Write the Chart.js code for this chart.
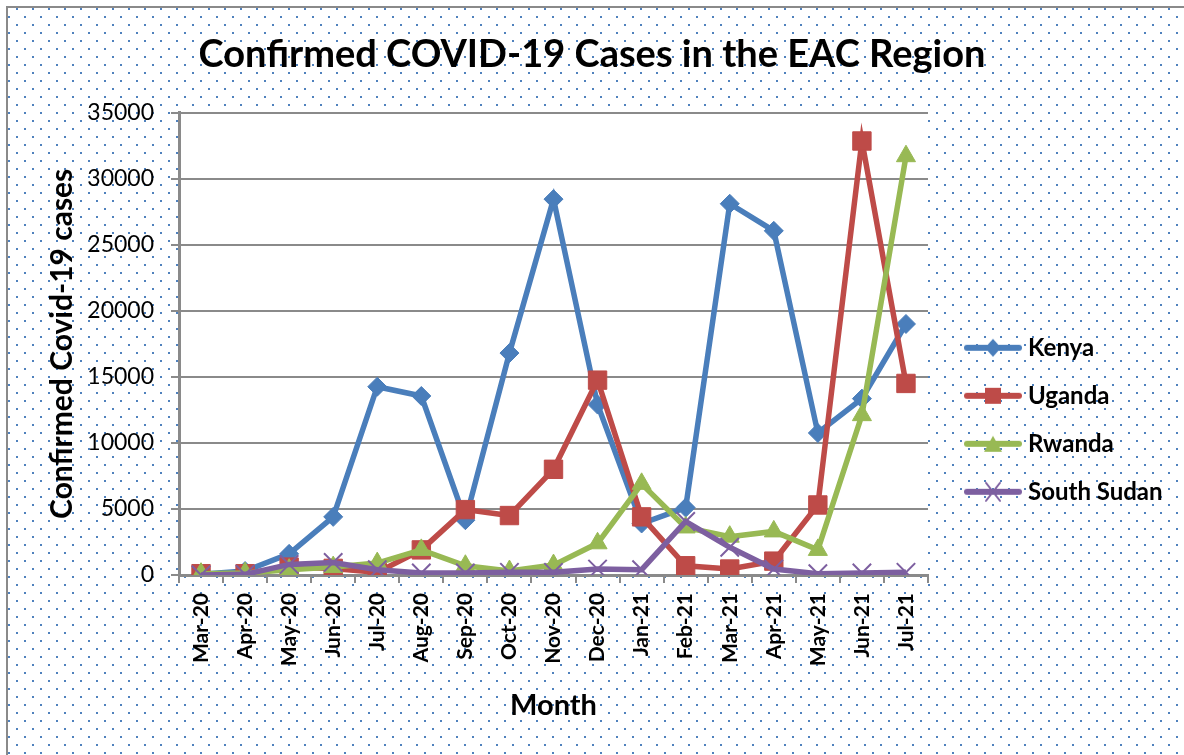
<!DOCTYPE html>
<html>
<head>
<meta charset="utf-8">
<script src="https://cdn.jsdelivr.net/npm/chart.js@4.4.1/dist/chart.umd.min.js"></script>
<style>
  html, body { margin: 0; padding: 0; background: #ffffff; }
  #wrap { width: 1184px; height: 755px; position: relative; }
</style>
</head>
<body>
<div id="wrap"><canvas id="c" width="1184" height="755"></canvas></div>
<script>
const months = ["Mar-20","Apr-20","May-20","Jun-20","Jul-20","Aug-20","Sep-20","Oct-20","Nov-20","Dec-20","Jan-21","Feb-21","Mar-21","Apr-21","May-21","Jun-21","Jul-21"];
const kenya = [50, 300, 1600, 4400, 14250, 13550, 4150, 16800, 28450, 12900, 3900, 5100, 28100, 26050, 10750, 13350, 19000];
const uganda = [100, 100, 600, 500, 200, 1900, 4950, 4500, 8000, 14750, 4400, 700, 450, 1050, 5300, 32850, 14500];
const rwanda = [100, 150, 400, 600, 900, 1900, 700, 300, 750, 2400, 6900, 3600, 2900, 3300, 1900, 12100, 31700];
const southSudan = [0, 50, 800, 950, 400, 150, 150, 200, 200, 450, 400, 4050, 2100, 450, 100, 150, 200];
const seriesNames = ["Kenya", "Uganda", "Rwanda", "South Sudan"];
const yTicks = [0, 5000, 10000, 15000, 20000, 25000, 30000, 35000];

const colors = ["#4A7EBB", "#BE4B48", "#98B954", "#7D5FA0"];
const styles = ["rectRot", "rect", "triangle", "crossRot"];
const FONT = "Lato";

function legendIcon(i) {
  const cv = document.createElement('canvas');
  cv.width = 76; cv.height = 24;
  const g = cv.getContext('2d');
  g.strokeStyle = colors[i]; g.fillStyle = colors[i];
  g.lineWidth = 6; g.lineCap = 'round';
  g.beginPath(); g.moveTo(21, 12); g.lineTo(73, 12); g.stroke();
  const cx = 47, cy = 12;
  g.beginPath();
  if (i === 0) { g.moveTo(cx, cy - 9); g.lineTo(cx + 8, cy); g.lineTo(cx, cy + 9); g.lineTo(cx - 8, cy); g.closePath(); g.fill(); }
  else if (i === 1) { g.rect(cx - 8, cy - 8, 16, 16); g.fill(); }
  else if (i === 2) { g.moveTo(cx, cy - 8); g.lineTo(cx + 9, cy + 8); g.lineTo(cx - 9, cy + 8); g.closePath(); g.fill(); }
  else { g.lineWidth = 2; g.moveTo(cx - 7, cy - 9); g.lineTo(cx + 7, cy + 9); g.moveTo(cx + 7, cy - 9); g.lineTo(cx - 7, cy + 9); g.stroke(); }
  return cv;
}
const icons = [0,1,2,3].map(legendIcon);

const bgPlugin = {
  id: 'bg',
  beforeDraw(chart) {
    const ctx = chart.ctx;
    const tile = document.createElement('canvas');
    tile.width = 16; tile.height = 16;
    const t = tile.getContext('2d');
    t.fillStyle = '#4F81BD';
    t.fillRect(8, 0, 2, 2);
    t.fillRect(0, 8, 2, 2);
    ctx.save();
    ctx.fillStyle = '#ffffff';
    ctx.fillRect(0, 0, chart.width, chart.height);
    ctx.fillStyle = ctx.createPattern(tile, 'repeat');
    ctx.fillRect(8, 8, chart.width - 8, chart.height - 8);
    ctx.strokeStyle = '#8a8a8a';
    ctx.lineWidth = 2;
    ctx.beginPath();
    ctx.moveTo(7, chart.height + 5); ctx.lineTo(7, 7); ctx.lineTo(chart.width + 5, 7);
    ctx.stroke();
    const a = chart.chartArea;
    ctx.fillStyle = '#ffffff';
    ctx.fillRect(a.left, a.top, a.right - a.left, a.bottom - a.top);
    ctx.restore();
  }
};

const datasets = [kenya, uganda, rwanda, southSudan].map((d, i) => ({
  label: seriesNames[i],
  data: d,
  borderColor: colors[i],
  backgroundColor: colors[i],
  borderWidth: 5.5,
  pointStyle: styles[i],
  pointRadius: [9.5, 13, 11, 13][i],
  pointHoverRadius: [9.5, 13, 11, 13][i],
  pointBorderWidth: i === 3 ? 2 : 1,
  pointBorderColor: colors[i],
  pointBackgroundColor: colors[i],
  tension: 0,
  order: 4 - i
}));

const chart = new Chart(document.getElementById('c'), {
  type: 'line',
  data: { labels: months, datasets },
  plugins: [bgPlugin],
  options: {
    responsive: false,
    animation: false,
    events: [],
    layout: { padding: { left: 0, right: 0, top: 0, bottom: 0 } },
    plugins: {
      title: {
        display: true,
        text: 'Confirmed COVID-19 Cases in the EAC Region',
        color: '#000',
        font: { family: FONT, size: 38, weight: 'bold' },
        padding: { top: 32, bottom: 35 }
      },
      legend: {
        display: true,
        position: 'right',
        fullSize: false,
        align: 'center',
        title: { display: true, text: ' ', font: { size: 10 }, padding: { top: 140, bottom: 0 } },
        labels: {
          usePointStyle: true,
          pointStyleWidth: 64,
          padding: 24,
          color: '#000',
          font: { family: FONT, size: 24, weight: 'bold' },
          generateLabels(chart) {
            return chart.data.datasets.map((ds, i) => ({
              text: ds.label,
              datasetIndex: i,
              pointStyle: icons[i],
              fillStyle: colors[i],
              strokeStyle: colors[i],
              lineWidth: 0,
              hidden: false,
              fontColor: '#000'
            }));
          }
        }
      },
      tooltip: { enabled: false }
    },
    scales: {
      x: {
        offset: true,
        afterFit(s) { s.height = 180; },
        grid: { display: true, drawOnChartArea: false, drawTicks: true, tickLength: 8, offset: true, color: '#8a8a8a', lineWidth: 2 },
        border: { display: true, color: '#8a8a8a', width: 3 },
        ticks: { autoSkip: false, maxRotation: 90, minRotation: 90, padding: 10, color: '#000', font: { family: FONT, size: 21, weight: 'bold' } },
        title: { display: true, text: 'Month', color: '#000', font: { family: FONT, size: 29, weight: 'bold' }, padding: { top: 4, bottom: 32 } }
      },
      y: {
        min: 0, max: 35000,
        afterFit(s) { s.width = 179; },
        afterBuildTicks(s) { s.ticks = yTicks.map(v => ({ value: v })); },
        grid: { display: true, drawTicks: true, tickLength: 8, color: '#8a8a8a', lineWidth: 2 },
        border: { display: true, color: '#8a8a8a', width: 3 },
        ticks: { padding: 17, color: '#000', font: { family: FONT, size: 23 }, callback: v => String(v) },
        title: { display: true, text: 'Confirmed Covid-19 cases', color: '#000', font: { family: FONT, size: 30, weight: 'bold' }, padding: { top: 44, bottom: 4 } }
      }
    }
  }
});
const lg = chart.legend;
const origFit = lg.fit.bind(lg);
lg.fit = function () { origFit(); this.width = 1184 - 928; };
chart.update();
</script>
</body>
</html>
